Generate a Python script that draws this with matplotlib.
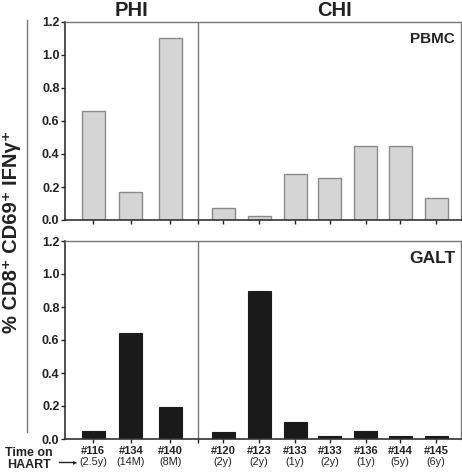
import matplotlib
matplotlib.use("Agg")
import matplotlib.pyplot as plt
import matplotlib.transforms as mtransforms
from matplotlib.lines import Line2D

plt.rcParams["font.family"] = ["Liberation Sans", "DejaVu Sans"]

# ---- data ----
patients = ["#116", "#134", "#140", "#120", "#123", "#133", "#133", "#136", "#144", "#145"]
haart = ["(2.5y)", "(14M)", "(8M)", "(2y)", "(2y)", "(1y)", "(2y)", "(1y)", "(5y)", "(6y)"]
pbmc = [0.66, 0.17, 1.10, 0.075, 0.025, 0.28, 0.255, 0.45, 0.45, 0.135]
galt = [0.05, 0.645, 0.195, 0.042, 0.895, 0.105, 0.016, 0.046, 0.016, 0.016]
groups = ["PHI", "CHI"]
yticks = [0.0, 0.2, 0.4, 0.6, 0.8, 1.0, 1.2]

# positions (layout)
pos = [0.78, 1.83, 2.92, 4.39, 5.39, 6.39, 7.36, 8.36, 9.31, 10.31]
divider = 3.69
xmax = 11.0
bw = 0.64

W, H = 462, 473
fig = plt.figure(figsize=(W / 100, H / 100), dpi=100)

left = 65 / W
width = (461 - 65) / W
ax1 = fig.add_axes([left, 1 - 220 / H, width, (220 - 22) / H])
ax2 = fig.add_axes([left, 1 - 439 / H, width, (439 - 241) / H])

def style(ax):
    ax.set_xlim(0, xmax)
    ax.set_ylim(0, 1.2)
    ax.set_yticks(yticks)
    ax.set_yticklabels([f"{v:.1f}" for v in yticks], fontsize=9, fontweight="bold", color="#222222")
    ax.tick_params(axis="y", length=3, width=1, pad=1, colors="#222222")
    ax.tick_params(axis="x", length=3, width=1, direction="out", colors="#222222")
    for s in ["left", "bottom"]:
        ax.spines[s].set_color("#333333")
        ax.spines[s].set_linewidth(1.2)
    for s in ["top", "right"]:
        ax.spines[s].set_color("#777777")
        ax.spines[s].set_linewidth(1.0)
    ax.axvline(divider, color="#777777", lw=1.0)

style(ax1)
style(ax2)

ax1.bar(pos, pbmc, width=bw, color="#d5d5d5", edgecolor="#8a8a8a", linewidth=1.0, zorder=2)
ax2.bar(pos, galt, width=bw, color="#1a1a1a", edgecolor="#1a1a1a", linewidth=0.8, zorder=2)

ax1.set_xticks(pos + [divider])
ax1.set_xticklabels([])
ax2.set_xticks(pos + [divider])
ax2.set_xticklabels(patients + [""], fontsize=8, fontweight="bold", color="#222222")
ax2.tick_params(axis="x", pad=2)
blend = mtransforms.blended_transform_factory(ax2.transData, fig.transFigure)
for x, t in zip(pos, haart):
    ax2.text(x, 1 - 462 / H, t, ha="center", va="center", fontsize=7.8, color="#222222",
             transform=blend)

ax1.text(0.985, 0.95, "PBMC", transform=ax1.transAxes, ha="right", va="top",
         fontsize=11, fontweight="bold", color="#222222")
ax2.text(0.985, 0.95, "GALT", transform=ax2.transAxes, ha="right", va="top",
         fontsize=12.5, fontweight="bold", color="#222222")

fig.text(131 / W, 1 - 11 / H, groups[0], ha="center", va="center", fontsize=14.5,
         fontweight="bold", color="#222222")
fig.text(334 / W, 1 - 11 / H, groups[1], ha="center", va="center", fontsize=14.5,
         fontweight="bold", color="#222222")

fig.text(12 / W, 1 - 232 / H, "% CD8\u207a CD69\u207a IFN\u03b3\u207a", rotation=90,
         ha="center", va="center", fontsize=14.5, fontweight="bold", color="#222222")
fig.add_artist(Line2D([27 / W, 27 / W], [1 - 20 / H, 1 - 432 / H], color="#777777", lw=1.0))

fig.text(29 / W, 1 - 453 / H, "Time on", ha="center", va="center", fontsize=9,
         fontweight="bold", color="#222222")
fig.text(29 / W, 1 - 465 / H, "HAART", ha="center", va="center", fontsize=9,
         fontweight="bold", color="#222222")
fig.add_artist(Line2D([59 / W, 73 / W], [1 - 462 / H, 1 - 462 / H], color="#222222", lw=1.0))
fig.text(77 / W, 1 - 462 / H, "\u25b8", ha="right", va="center", fontsize=6,
         family="DejaVu Sans", color="#222222")

fig.savefig("out.png", dpi=100)
